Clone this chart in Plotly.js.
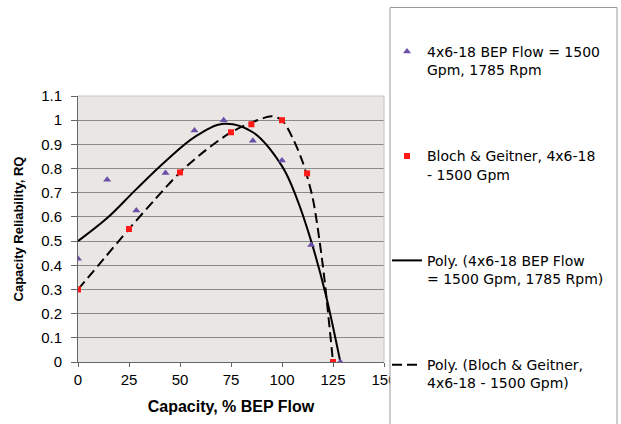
<!DOCTYPE html>
<html>
<head>
<meta charset="utf-8">
<script src="https://cdn.plot.ly/plotly-3.0.1.min.js"></script>
<style>
html,body{margin:0;padding:0;background:#fff;}
#chart{width:621px;height:424px;}
</style>
</head>
<body>
<div id="chart"></div>
<script>
// Measured data points
const triX = [0, 14.3, 28.6, 42.9, 57.1, 71.4, 85.7, 100, 114.3, 128.6];
const triY = [0.427, 0.754, 0.626, 0.782, 0.957, 1.0, 0.915, 0.833, 0.484, 0.0];

const sqX = [0, 25, 50, 75, 85, 100, 112.3, 125];
const sqY = [0.30, 0.55, 0.784, 0.95, 0.983, 1.0, 0.78, 0.0];

// Trendlines
const polyTriX = [0, 14.3, 28.6, 42.9, 57.1, 71.4, 85.7, 100, 107.1, 114.3, 121.4, 128.6];
const polyTriY = [0.50, 0.595, 0.715, 0.83, 0.93, 0.985, 0.95, 0.81, 0.68, 0.50, 0.28, 0.0];

const polySqX = [0, 12.5, 25, 37.5, 50, 62.5, 75, 85, 95, 100, 105, 110, 115, 120, 125];
const polySqY = [0.30, 0.425, 0.55, 0.67, 0.784, 0.875, 0.95, 0.99, 1.016, 1.0, 0.93, 0.83, 0.68, 0.40, 0.0];

const names = [
  "4x6-18 BEP Flow = 1500<br>Gpm, 1785 Rpm",
  "Bloch &amp; Geitner, 4x6-18<br>- 1500 Gpm",
  "Poly. (4x6-18 BEP Flow<br>= 1500 Gpm, 1785 Rpm)",
  "Poly. (Bloch &amp; Geitner,<br>4x6-18 - 1500 Gpm)"
];

const FONT = "Liberation Sans, Arial, Helvetica, sans-serif";
const LFONT = "DejaVu Sans, Verdana, sans-serif";

const data = [
  {x: polyTriX, y: polyTriY, mode: 'lines', name: names[2], legendgroup: 'g3', legendrank: 3,
   line: {color: '#000000', width: 2, shape: 'spline', smoothing: 1}},
  {x: polySqX, y: polySqY, mode: 'lines', name: names[3], legendgroup: 'g4', legendrank: 4,
   line: {color: '#000000', width: 2, dash: '10px,5px', shape: 'spline', smoothing: 0.8}},
  {x: triX, y: triY, mode: 'markers', name: names[0], legendgroup: 'g1', legendrank: 1,
   marker: {symbol: 'triangle-up', size: 7, color: '#6a4ea8'}},
  {x: sqX, y: sqY, mode: 'markers', name: names[1], legendgroup: 'g2', legendrank: 2,
   marker: {symbol: 'square', size: 6, color: '#ff1a1a'}}
];

const L = 78, R = 237, T = 96, B = 62, W = 621, H = 424;
const pw = W - L - R, ph = H - T - B;
const px = v => (v - L) / pw;
const py = v => (H - B - v) / ph;

const layout = {
  width: W, height: H,
  margin: {l: L, r: R, t: T, b: B, pad: 0},
  paper_bgcolor: '#ffffff',
  plot_bgcolor: '#e9e6e4',
  font: {family: FONT, color: '#000000', size: 15},
  showlegend: true,
  legend: {
    x: px(387), xanchor: 'left', y: py(36), yanchor: 'top',
    bgcolor: 'rgba(0,0,0,0)', borderwidth: 0,
    font: {family: LFONT, size: 14, color: '#000'},
    traceorder: 'grouped', tracegroupgap: 65, valign: 'top',
    maxheight: 600
  },
  xaxis: {
    range: [0, 150], dtick: 25, tick0: 0,
    showgrid: false, zeroline: false,
    showline: true, linecolor: '#666666', linewidth: 1,
    ticks: 'outside', ticklen: 4, tickcolor: '#666666',
    tickfont: {family: FONT, size: 15, color: '#000'},
    title: {text: 'Capacity, % BEP Flow', font: {family: FONT, size: 16, color: '#000', weight: 'bold'}, standoff: 13}
  },
  yaxis: {
    range: [0, 1.1], dtick: 0.1, tick0: 0,
    showgrid: true, gridcolor: '#8a8a8a', gridwidth: 1,
    zeroline: false,
    showline: true, linecolor: '#666666', linewidth: 1,
    ticks: 'outside', ticklen: 6, tickcolor: '#666666',
    ticklabelstandoff: 6,
    tickfont: {family: FONT, size: 15, color: '#000'},
    title: {text: 'Capacity Reliability, RQ', font: {family: FONT, size: 13, color: '#000', weight: 'bold'}, standoff: 14}
  },
  shapes: [
    {type: 'line', xref: 'paper', yref: 'paper', x0: 0, x1: 1, y0: 1, y1: 1, layer: 'above', line: {color: '#c4c4c4', width: 1}},
    {type: 'line', xref: 'paper', yref: 'paper', x0: 1, x1: 1, y0: 0, y1: 1, layer: 'above', line: {color: '#c4c4c4', width: 1}},
    {type: 'rect', xref: 'paper', yref: 'paper', x0: px(390), x1: px(617), y0: py(440), y1: py(7.5), layer: 'above',
     fillcolor: '#ffffff', line: {color: '#9a9a9a', width: 1}}
  ]
};

Plotly.newPlot('chart', data, layout, {staticPlot: true, displayModeBar: false});
</script>
</body>
</html>
